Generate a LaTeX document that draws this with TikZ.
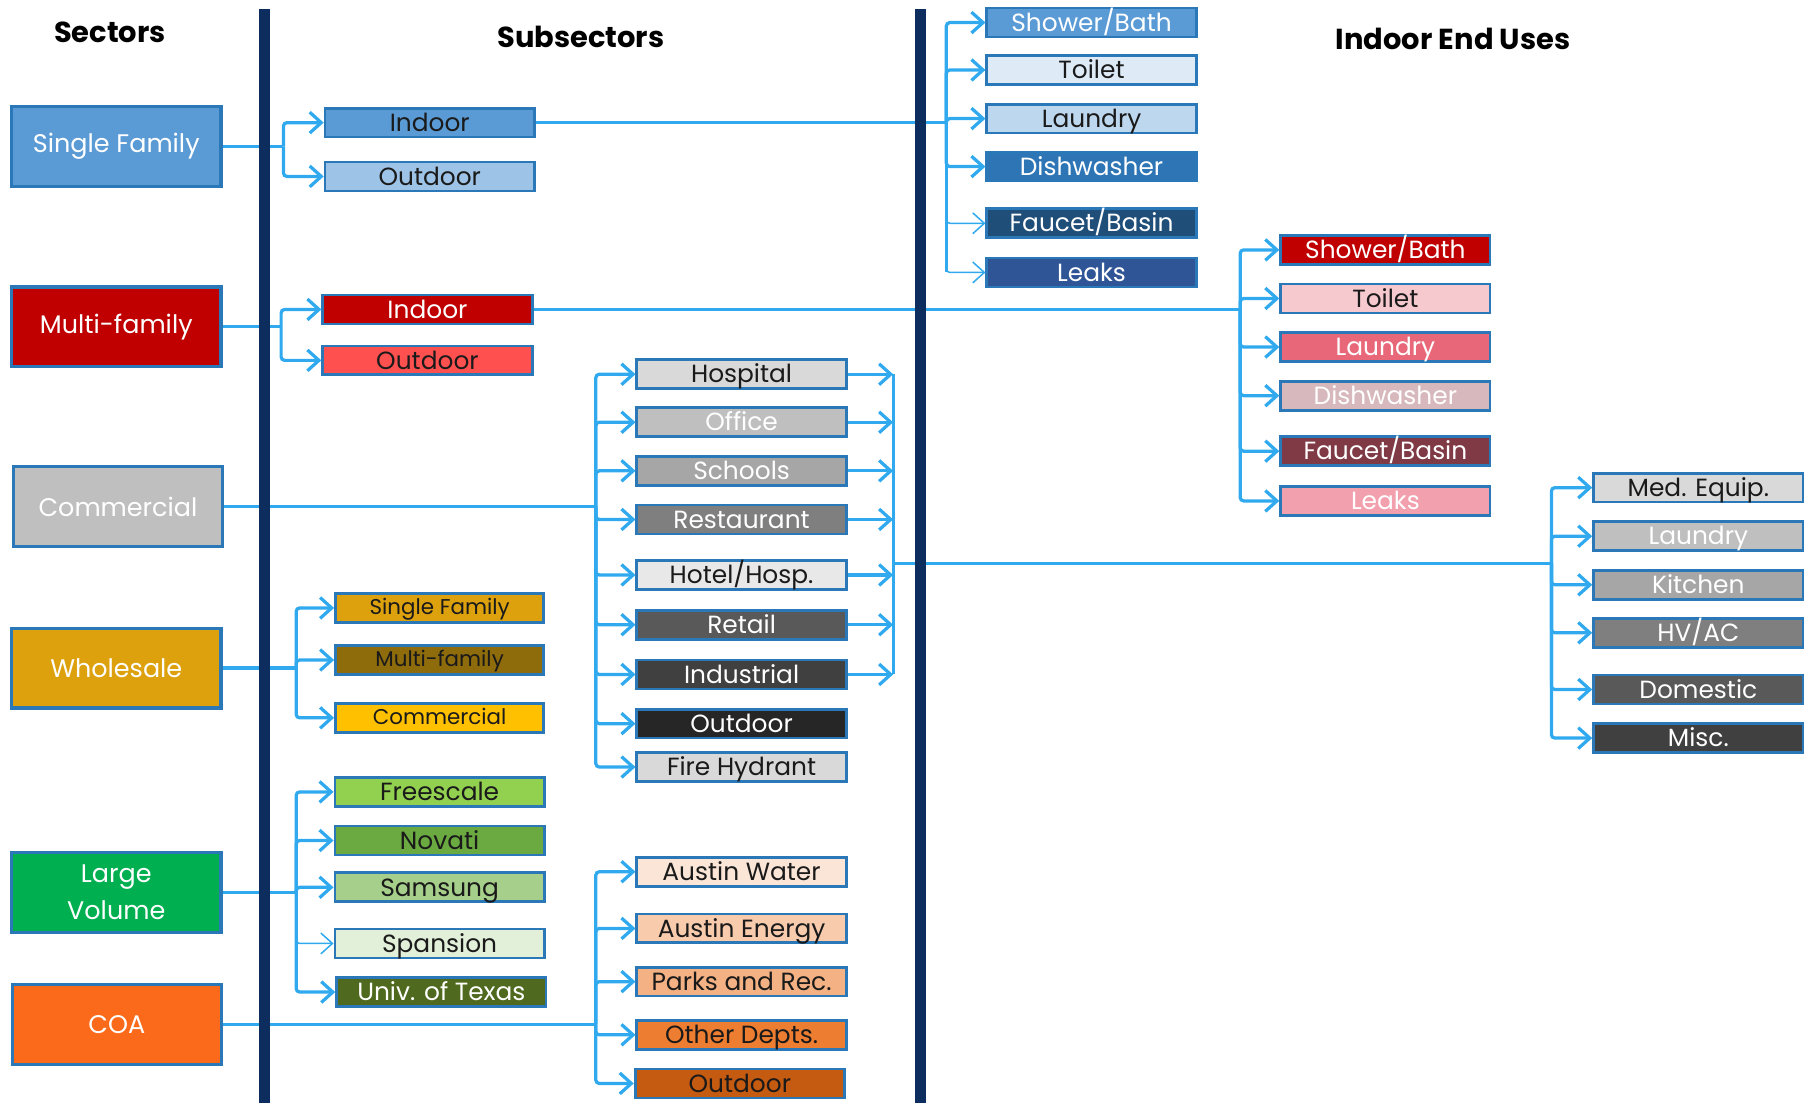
\documentclass[tikz,border=0pt]{standalone}
\usepackage{fontspec}
\setmainfont{Poppins}
\usetikzlibrary{arrows.meta}
\definecolor{navy}{HTML}{0D2D5E}
\definecolor{conn}{HTML}{30A9EE}
\definecolor{bord}{HTML}{2A78B8}
\definecolor{dark}{HTML}{1A1A1A}
% sector colours
\definecolor{cSF}{HTML}{5B9BD5}
\definecolor{cMF}{HTML}{C00000}
\definecolor{cCOM}{HTML}{BFBFBF}
\definecolor{cWS}{HTML}{DCA10D}
\definecolor{cLV}{HTML}{00B050}
\definecolor{cCOA}{HTML}{FB6A1A}
% subsectors
\definecolor{cSFout}{HTML}{9DC3E6}
\definecolor{cMFout}{HTML}{FF5050}
\definecolor{g1}{HTML}{D9D9D9}
\definecolor{g2}{HTML}{BFBFBF}
\definecolor{g3}{HTML}{A6A6A6}
\definecolor{g4}{HTML}{7F7F7F}
\definecolor{g5}{HTML}{595959}
\definecolor{g6}{HTML}{404040}
\definecolor{g7}{HTML}{262626}
\definecolor{g0}{HTML}{E8E8E8}
\definecolor{wsMF}{HTML}{8E6B0B}
\definecolor{wsCOM}{HTML}{FFC000}
\definecolor{lv1}{HTML}{92D050}
\definecolor{lv2}{HTML}{6AAA40}
\definecolor{lv3}{HTML}{A5CF8A}
\definecolor{lv4}{HTML}{E2F0D9}
\definecolor{lv5}{HTML}{4F6A1E}
\definecolor{co1}{HTML}{FBE5D6}
\definecolor{co2}{HTML}{F8CBAD}
\definecolor{co3}{HTML}{F4B183}
\definecolor{co4}{HTML}{ED7D31}
\definecolor{co5}{HTML}{C55A11}
% end uses
\definecolor{sf2}{HTML}{DEEBF7}
\definecolor{sf3}{HTML}{BDD7EE}
\definecolor{sf4}{HTML}{2E75B6}
\definecolor{sf5}{HTML}{1F4E79}
\definecolor{sf6}{HTML}{2F5597}
\definecolor{mf2}{HTML}{F6C9CF}
\definecolor{mf3}{HTML}{E8687A}
\definecolor{mf4}{HTML}{D7B9BD}
\definecolor{mf5}{HTML}{7F3A45}
\definecolor{mf6}{HTML}{F3A0AE}
\tikzset{
  box/.style={draw=bord, line width=2.4pt, inner sep=0pt, anchor=center},
  secbox/.style={box, fill=#1, minimum width=181pt, minimum height=69pt, line width=2.8pt, text=white, font=\fontsize{22}{32}\selectfont, align=center},
  subbox/.style={box, fill=#1, minimum width=181pt, minimum height=25pt, text height=18pt, text depth=3pt, font=\fontsize{21.5}{24}\selectfont},
  smallbox/.style={box, fill=#1, minimum width=180pt, minimum height=25pt, text height=15pt, text depth=3pt, font=\fontsize{18.5}{22}\selectfont, text=dark},
  tw/.style={text=white},
  td/.style={text=dark},
  ln/.style={draw=conn, line width=2.8pt, rounded corners=3pt},
  ar/.style={ln, -{Straight Barb[length=10pt,width=18pt]}},
  thinar/.style={ar, line width=1.3pt},
  bar/.style={draw=navy, line width=9pt},
  ttl/.style={font=\bfseries\fontsize{25}{30}\selectfont, text=black},
}
\begin{document}
\begin{tikzpicture}[x=1pt,y=-1pt]
\useasboundingbox (0,0) rectangle (1568,953);
% titles
\node[ttl] (t1) at (95,28) {Sectors};
\node[ttl] (t2) at (502,32) {Subsectors};
\node[ttl] (t3) at (1256,34) {Indoor End Uses};
% sectors
\node[secbox=cSF] (sf) at (100.5,126.5) {Single Family};
\node[secbox=cMF] (mf) at (100.5,282.5) {Multi-family};
\node[secbox=cCOM] (com) at (102,438) {Commercial};
\node[secbox=cWS] (ws) at (100.5,577.5) {Wholesale};
\node[secbox=cLV] (lv) at (100.5,771.5) {Large\\Volume};
\node[secbox=cCOA] (coa) at (101,885.5) {COA};
% residential subsectors
\node[subbox=cSF, td] (sfin) at (371.5,106) {Indoor};
\node[subbox=cSFout, td] (sfout) at (371.5,152.5) {Outdoor};
\node[subbox=cMF, tw] (mfin) at (369.5,267.5) {Indoor};
\node[subbox=cMFout, td] (mfout) at (369.5,311.5) {Outdoor};
% commercial subsectors
\node[subbox=g1, td] (hosp) at (641,323.5) {Hospital};
\node[subbox=g2, tw] (office) at (641,365) {Office};
\node[subbox=g3, tw] (schools) at (641,407) {Schools};
\node[subbox=g4, tw] (rest) at (641,449) {Restaurant};
\node[subbox=g0, td] (hotel) at (641,497) {Hotel/Hosp.};
\node[subbox=g5, tw] (retail) at (641,540) {Retail};
\node[subbox=g6, tw] (indus) at (641,583) {Industrial};
\node[subbox=g7, tw] (cout) at (641,625.5) {Outdoor};
\node[subbox=g1, td] (fire) at (641,663) {Fire Hydrant};
% wholesale subsectors
\node[smallbox=cWS] (wssf) at (380,525.5) {Single Family};
\node[smallbox=wsMF] (wsmf) at (380,570.5) {Multi-family};
\node[smallbox=wsCOM] (wscom) at (380,620.5) {Commercial};
% large volume subsectors
\node[subbox=lv1, td] (free) at (380,684.5) {Freescale};
\node[subbox=lv2, td] (nov) at (380,726.5) {Novati};
\node[subbox=lv3, td] (sam) at (380,767) {Samsung};
\node[subbox=lv4, td] (spa) at (380,815.5) {Spansion};
\node[subbox=lv5, tw] (ut) at (381.5,857.5) {Univ. of Texas};
% COA subsectors
\node[subbox=co1, td] (aw) at (641,753.5) {Austin Water};
\node[subbox=co2, td] (ae) at (641,802.5) {Austin Energy};
\node[subbox=co3, td] (pr) at (641,848.5) {Parks and Rec.};
\node[subbox=co4, td] (od) at (641,894.5) {Other Depts.};
\node[subbox=co5, td] (coaout) at (639.5,936.5) {Outdoor};
% SF end uses
\node[subbox=cSF, tw] (sfe1) at (943.5,19.5) {Shower/Bath};
\node[subbox=sf2, td] (sfe2) at (943.5,60.5) {Toilet};
\node[subbox=sf3, td] (sfe3) at (943.5,102.5) {Laundry};
\node[subbox=sf4, tw] (sfe4) at (943.5,144) {Dishwasher};
\node[subbox=sf5, tw] (sfe5) at (943.5,193) {Faucet/Basin};
\node[subbox=sf6, tw] (sfe6) at (943.5,235.5) {Leaks};
% MF end uses
\node[subbox=cMF, tw] (mfe1) at (1197.5,216) {Shower/Bath};
\node[subbox=mf2, td] (mfe2) at (1197.5,258) {Toilet};
\node[subbox=mf3, tw] (mfe3) at (1197.5,300) {Laundry};
\node[subbox=mf4, tw] (mfe4) at (1197.5,342) {Dishwasher};
\node[subbox=mf5, tw] (mfe5) at (1197.5,390) {Faucet/Basin};
\node[subbox=mf6, tw] (mfe6) at (1197.5,433) {Leaks};
% commercial end uses
\node[subbox=g1, td] (ce1) at (1468,421.5) {Med. Equip.};
\node[subbox=g2, tw] (ce2) at (1468,463.5) {Laundry};
\node[subbox=g3, tw] (ce3) at (1468,505.5) {Kitchen};
\node[subbox=g4, tw] (ce4) at (1468,547) {HV/AC};
\node[subbox=g5, tw] (ce5) at (1468,596) {Domestic};
\node[subbox=g6, tw] (ce6) at (1468,638) {Misc.};
% junctions
\coordinate (sfj) at (245,126.5);
\coordinate (mfj) at (243,282.5);
\coordinate (cj) at (515,438);
\coordinate (wsj) at (256,577.5);
\coordinate (lvj) at (256,771.5);
\coordinate (coaj) at (515,885.5);
\coordinate (sfej) at (818,106);
\coordinate (mfej) at (1072,267.5);
\coordinate (cm) at (772,487);
\coordinate (cej) at (1341,487);
% single family
\draw[ln] (sf.east) -- (sfj);
\draw[ar] (sfj) |- (sfin.west);
\draw[ar] (sfj) |- (sfout.west);
% multi-family
\draw[ln] (mf.east) -- (mfj);
\draw[ar] (mfj) |- (mfin.west);
\draw[ar] (mfj) |- (mfout.west);
% commercial
\draw[ln] (com.east) -- (cj);
\foreach \n in {hosp,office,schools,rest,hotel,retail,indus,cout,fire}
  \draw[ar] (cj) |- (\n.west);
\foreach \n in {hosp,office,schools,rest,hotel,retail,indus}
  \draw[ar] (\n.east) -- (\n.east -| cm);
\draw[ln] (hosp.east -| cm) -- (indus.east -| cm);
\draw[ln] (cm) -- (cej);
\foreach \n in {ce1,ce2,ce3,ce4,ce5,ce6}
  \draw[ar] (cej) |- (\n.west);
% wholesale
\draw[ln] (ws.east) -- (wsj);
\foreach \n in {wssf,wsmf,wscom}
  \draw[ar] (wsj) |- (\n.west);
% large volume
\draw[ln] (lv.east) -- (lvj);
\foreach \n in {free,nov,sam,ut}
  \draw[ar] (lvj) |- (\n.west);
\draw[thinar] (lvj) |- (spa.west);
% COA
\draw[ln] (coa.east) -- (coaj);
\foreach \n in {aw,ae,pr,od,coaout}
  \draw[ar] (coaj) |- (\n.west);
% SF indoor end uses
\draw[ln] (sfin.east) -- (sfej);
\foreach \n in {sfe1,sfe2,sfe3,sfe4}
  \draw[ar] (sfej) |- (\n.west);
\foreach \n in {sfe5,sfe6}
  \draw[thinar] (sfej) |- (\n.west);
\draw[ln] (sfej) -- (sfej |- sfe6.west);
% MF indoor end uses
\draw[ln] (mfin.east) -- (mfej);
\foreach \n in {mfe1,mfe2,mfe3,mfe4,mfe5,mfe6}
  \draw[ar] (mfej) |- (\n.west);
% dividing bars
\draw[bar] (228.5,8) -- (228.5,953);
\draw[bar] (795.5,8) -- (795.5,953);
\end{tikzpicture}
\end{document}
